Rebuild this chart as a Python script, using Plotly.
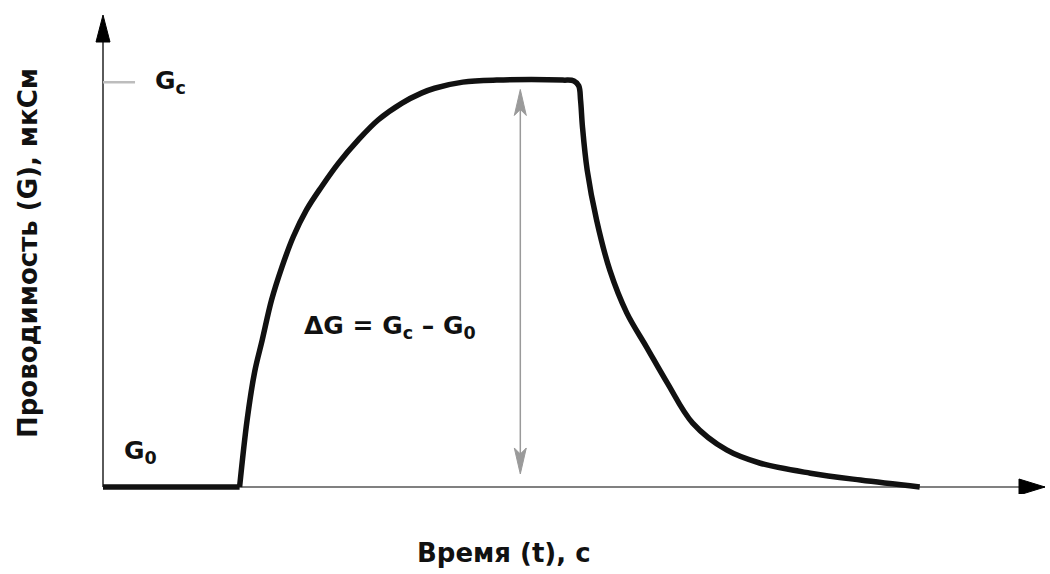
import plotly.graph_objects as go

# Conductance response of a sensor: baseline G0, rise to saturation Gc, recovery
time_s = [0.0, 14.5, 15.3, 16.1, 16.9, 17.9, 19.0, 20.2, 21.6, 23.2, 25.0, 27.1,
          29.2, 31.7, 33.8, 35.2, 38.2, 41.8, 48.8, 50.0, 50.5, 50.7, 50.9, 51.4,
          52.4, 53.8, 55.6, 57.7, 59.9, 62.6, 66.2, 69.7, 75.1, 80.4, 86.7]
conductance = [0.0, 0.0, 16.5, 28.3, 36.1, 46.0, 54.1, 61.5, 68.1, 73.8, 79.6, 85.3,
               90.2, 94.3, 96.8, 98.0, 99.5, 100.0, 100.0, 99.8, 98.6, 95.0, 88.5,
               77.9, 65.6, 53.3, 42.8, 34.4, 25.6, 15.7, 9.1, 5.9, 3.4, 1.7, 0.0]

G0 = 0.0
Gc = 100.0
delta_x = 44.3          # time at which the ΔG span is marked
x_max, y_max = 100.0, 116.0

x_title = "Время (t), с"
y_title = "Проводимость (G), мкСм"
label_gc = "G<sub>c</sub>"
label_g0 = "G<sub>0</sub>"
label_delta = "ΔG = G<sub>c</sub> – G<sub>0</sub>"

FONT = "DejaVu Sans"
INK = "#111111"
Y_AXIS = "#5a5a5a"
X_AXIS = "#808080"
GREY = "#9a9a9a"

fig = go.Figure()

# baseline segment (straight) and the response curve (smoothed)
fig.add_trace(go.Scatter(x=time_s[:2], y=conductance[:2], mode="lines",
                         line=dict(color=INK, width=5.5), hoverinfo="skip"))
fig.add_trace(go.Scatter(x=time_s[1:], y=conductance[1:], mode="lines",
                         line=dict(color=INK, width=5.5, shape="spline", smoothing=1.0),
                         hoverinfo="skip"))

shapes = []
# axis lines with arrowheads
shapes.append(dict(type="line", xref="x", yref="y", x0=0, x1=x_max, y0=0, y1=0,
                   line=dict(color=X_AXIS, width=2), layer="below"))
shapes.append(dict(type="line", xref="x", yref="y", x0=0, x1=0, y0=0, y1=y_max - 2,
                   line=dict(color=Y_AXIS, width=2), layer="below"))
shapes.append(dict(type="path", xref="x", yref="y", xsizemode="pixel",
                   ysizemode="pixel", xanchor=0, yanchor=y_max,
                   path="M0,0 L-7,-27 L7,-27 Z", fillcolor="black",
                   line=dict(color="black", width=1)))
shapes.append(dict(type="path", xref="x", yref="y", xsizemode="pixel",
                   ysizemode="pixel", xanchor=x_max, yanchor=0,
                   path="M0,0 L-26,8 L-26,-8 Z", fillcolor="black",
                   line=dict(color="black", width=1)))
# short tick marking the saturation level on the G axis
shapes.append(dict(type="line", xref="x", yref="y", x0=0, x1=3.4, y0=Gc - 0.5,
                   y1=Gc - 0.5, line=dict(color="#bdbdbd", width=2.5)))
# ΔG span
shapes.append(dict(type="line", xref="x", yref="y", x0=delta_x, x1=delta_x,
                   y0=G0 + 4.0, y1=Gc - 4.0, line=dict(color=GREY, width=1.5)))
for yv, path in [(Gc - 2.3, "M0,0 L-6,-26 L0,-20 L6,-26 Z"),
                 (G0 + 3.2, "M0,0 L-6,26 L0,20 L6,26 Z")]:
    shapes.append(dict(type="path", xref="x", yref="y", xsizemode="pixel",
                       ysizemode="pixel", xanchor=delta_x, yanchor=yv, path=path,
                       fillcolor=GREY, line=dict(color=GREY, width=1)))

def bold(size):
    return dict(family=FONT, size=size, color=INK, weight="bold")

annotations = [
    dict(x=5.3, y=Gc - 0.5, xref="x", yref="y", text=label_gc, showarrow=False,
         xanchor="left", yanchor="middle", font=bold(25)),
    dict(x=2.0, y=8.6, xref="x", yref="y", text=label_g0, showarrow=False,
         xanchor="left", yanchor="middle", font=bold(25)),
    dict(x=30.5, y=39.3, xref="x", yref="y", text=label_delta, showarrow=False,
         xanchor="center", yanchor="middle", font=bold(25)),
    dict(x=42.6, y=0, xref="x", yref="y", yshift=-66, text=x_title,
         showarrow=False, xanchor="center", yanchor="middle", font=bold(26)),
    dict(x=0, y=57.5, xref="x", yref="y", xshift=-75, text=y_title,
         textangle=-90, showarrow=False, xanchor="center", yanchor="middle",
         font=bold(26)),
]

axis_common = dict(showgrid=False, zeroline=False, showticklabels=False,
                   ticks="", showline=False, fixedrange=True)

fig.update_layout(
    width=1050, height=574,
    margin=dict(l=90, r=0, t=5, b=80),
    paper_bgcolor="white", plot_bgcolor="white",
    showlegend=False,
    xaxis=dict(range=[-1.38, 100.53], **axis_common),
    yaxis=dict(range=[-1.72, 118.46], **axis_common),
    shapes=shapes,
    annotations=annotations,
)

fig.write_html("out.html")
